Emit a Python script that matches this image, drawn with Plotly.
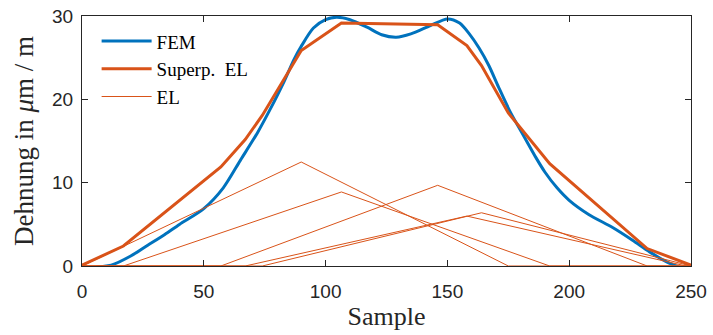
import plotly.graph_objects as go

# FEM reference curve
fem_x = [0, 3, 7, 12, 20, 27, 34, 40, 50, 58, 65, 72, 77, 83, 87, 90, 95, 100, 104.5, 110,
         117, 123, 129, 135, 143, 150, 155, 159, 163, 167, 171, 176, 181, 186, 190, 195,
         200, 208, 218, 226, 233, 240, 244, 248]
fem_y = [0, -0.3, -0.1, 0.1, 1.2, 2.5, 3.8, 5.0, 6.9, 9.4, 12.7, 16.0, 18.7, 22.2, 24.8, 26.4,
         28.6, 29.6, 29.9, 29.6, 28.7, 27.8, 27.5, 27.9, 28.9, 29.7, 29.2, 27.9, 26.2, 24.1,
         21.5, 18.4, 15.8, 13.2, 11.3, 9.4, 7.9, 6.2, 4.6, 3.1, 1.7, 0.5, 0.0, -0.5]

# Superposition of elementary lines (vertices)
sup_x = [0, 17, 57, 67, 74, 90, 106.5, 146, 158, 164, 175, 192, 232, 248, 250]
sup_y = [0.1, 2.4, 11.9, 15.2, 18.1, 25.9, 29.2, 29.0, 26.5, 24.1, 18.4, 12.3, 2.1, 0.3, 0.1]

# Elementary lines (triangles): x and y vertices
el1_x = [0, 90, 175, 250]
el1_y = [0, 12.5, 0, 0]
el2_x = [0, 17, 106.5, 192, 250]
el2_y = [0, 0, 8.9, 0, 0]
el3_x = [0, 57, 146, 232, 250]
el3_y = [0, 0, 9.7, 0, 0]
el4_x = [0, 67, 158, 248, 250]
el4_y = [0, 0, 6.0, 0, 0]
el5_x = [0, 74, 164, 250]
el5_y = [0, 0, 6.4, 0]

x_ticks = [0, 50, 100, 150, 200, 250]
y_ticks = [0, 10, 20, 30]

BLUE = "#0072BD"
ORANGE = "#D95319"
AX = "#262626"
SERIF = "Liberation Serif, Times New Roman, serif"

fig = go.Figure()
fig.add_trace(go.Scatter(x=fem_x, y=fem_y, mode="lines", name="FEM",
                         line=dict(color=BLUE, width=3, shape="spline", smoothing=0.8)))
fig.add_trace(go.Scatter(x=sup_x, y=sup_y, mode="lines", name="Superp.&nbsp; EL",
                         line=dict(color=ORANGE, width=3)))
els = [(el1_x, el1_y), (el2_x, el2_y), (el3_x, el3_y), (el4_x, el4_y), (el5_x, el5_y)]
for i, (ex, ey) in enumerate(els):
    fig.add_trace(go.Scatter(x=ex, y=ey, mode="lines", name="EL", showlegend=(i == 0),
                             line=dict(color=ORANGE, width=1)))

fig.update_layout(
    width=713, height=335,
    margin=dict(l=82, r=22, t=16, b=69),
    plot_bgcolor="white", paper_bgcolor="white",
    showlegend=True,
    legend=dict(x=0.024, y=0.975, xanchor="left", yanchor="top",
                bgcolor="rgba(0,0,0,0)", borderwidth=0,
                font=dict(family=SERIF, size=19, color="black"),
                itemwidth=50, tracegroupgap=0),
)
fig.update_xaxes(range=[0, 250], tickvals=x_ticks, ticks="inside", ticklen=6,
                 tickcolor=AX, showline=True, linecolor=AX, linewidth=1, mirror="ticks",
                 showgrid=False, zeroline=False, ticklabelstandoff=8, automargin=False,
                 tickfont=dict(family="Liberation Sans", size=19, color=AX),
                 title=dict(text="Sample", standoff=6,
                            font=dict(family=SERIF, size=26, color=AX)))
fig.update_yaxes(range=[0, 30.05], tickvals=y_ticks, ticks="inside", ticklen=6,
                 tickcolor=AX, showline=True, linecolor=AX, linewidth=1, mirror="ticks",
                 showgrid=False, zeroline=False, ticklabelstandoff=4, automargin=False,
                 tickfont=dict(family="Liberation Sans", size=19, color=AX),
                 title=dict(text="Dehnung in <i>μ</i>m / m", standoff=10,
                            font=dict(family=SERIF, size=27, color=AX)))

fig.write_html("out.html")
